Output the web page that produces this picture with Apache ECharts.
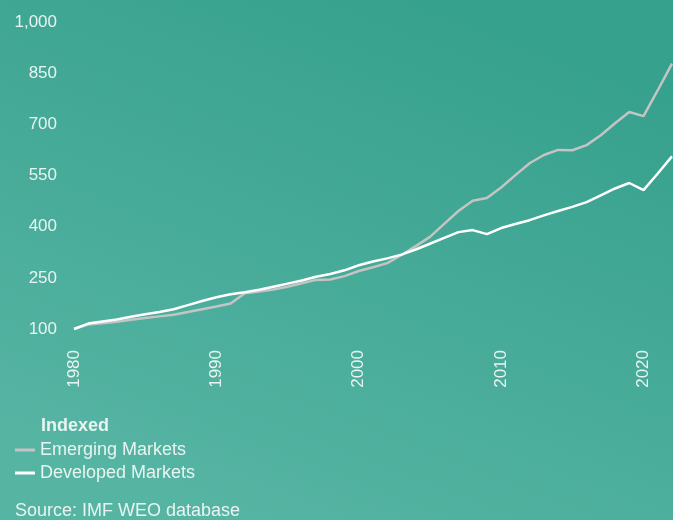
<!DOCTYPE html>
<html>
<head>
<meta charset="utf-8">
<script src="https://cdn.jsdelivr.net/npm/echarts@6/dist/echarts.min.js"></script>
<style>
  html, body { margin: 0; padding: 0; }
  #chart { width: 673px; height: 520px; }
</style>
</head>
<body>
<div id="chart"></div>
<script>
// data, indexed 1980 = 100
let years = []
for (let y = 1980; y <= 2022; y++) years.push(y)
let emerging = [100, 113, 117, 121, 127, 132, 137, 142, 150, 158,
  166, 175, 205, 210, 216, 224, 234, 244, 245, 255,
  270, 281, 293, 317, 343, 370, 408, 446, 476, 484,
  515, 551, 586, 610, 625, 624, 639, 668, 703, 736,
  724, 800, 878]
let developed = [100, 116, 122, 128, 136, 143, 150, 158, 170, 182,
  193, 202, 208, 215, 224, 233, 242, 253, 261, 272,
  287, 298, 307, 318, 333, 350, 367, 384, 390, 378,
  396, 408, 419, 433, 446, 458, 472, 492, 512, 528,
  507, 556, 606]
let yTicks = [100, 250, 400, 550, 700, 850, 1000]

let font = 'Liberation Sans'
let textColor = '#e9f4f1'

let myChart = echarts.init(document.getElementById('chart'))
let option = {
  // 背景渐变: 上深下浅
  backgroundColor: new echarts.graphic.LinearGradient(0.65, 0, 0.35, 1, [
    { offset: 0, color: '#36a18d' },
    { offset: 1, color: '#56b4a3' }
  ]),
  animation: false,
  title: {
    text: 'Indexed',
    left: 41,
    top: 417,
    padding: 0,
    textStyle: { color: textColor, fontFamily: font, fontSize: 18, fontWeight: 'bold' }
  },
  legend: {
    orient: 'vertical',
    left: 15,
    top: 441,
    padding: 0,
    itemWidth: 20,
    itemHeight: 3,
    itemGap: 5,
    icon: 'rect',
    textStyle: { color: textColor, fontFamily: font, fontSize: 18 },
    data: ['Emerging Markets', 'Developed Markets']
  },
  graphic: [{
    type: 'text',
    left: 15,
    top: 502,
    style: { text: 'Source: IMF WEO database', fill: textColor, font: '18px "Liberation Sans"' }
  }],
  grid: { left: 74, right: 1, top: 22, bottom: 191 },
  xAxis: {
    type: 'value',
    min: 1980,
    max: 2022,
    interval: 10,
    axisLine: { show: false },
    axisTick: { show: false },
    splitLine: { show: false },
    axisLabel: {
      rotate: 90,
      margin: 21,
      color: textColor,
      fontFamily: font,
      fontSize: 17,
      showMaxLabel: false,
      formatter: v => String(v)
    }
  },
  yAxis: {
    type: 'value',
    min: yTicks[0],
    max: yTicks[yTicks.length - 1],
    interval: 150,
    axisLine: { show: false },
    axisTick: { show: false },
    splitLine: { show: false },
    axisLabel: {
      margin: 17,
      color: textColor,
      fontFamily: font,
      fontSize: 17,
      formatter: v => v.toLocaleString('en-US')
    }
  },
  series: [{
    name: 'Emerging Markets',
    type: 'line',
    showSymbol: false,
    data: years.map((y, i) => [y, emerging[i]]),
    itemStyle: { color: '#c4c4c4' },
    lineStyle: { color: '#c4c4c4', width: 2.5 }
  }, {
    name: 'Developed Markets',
    type: 'line',
    showSymbol: false,
    data: years.map((y, i) => [y, developed[i]]),
    itemStyle: { color: '#ffffff' },
    lineStyle: { color: '#ffffff', width: 2.5 }
  }]
}
myChart.setOption(option)
</script>
</body>
</html>
